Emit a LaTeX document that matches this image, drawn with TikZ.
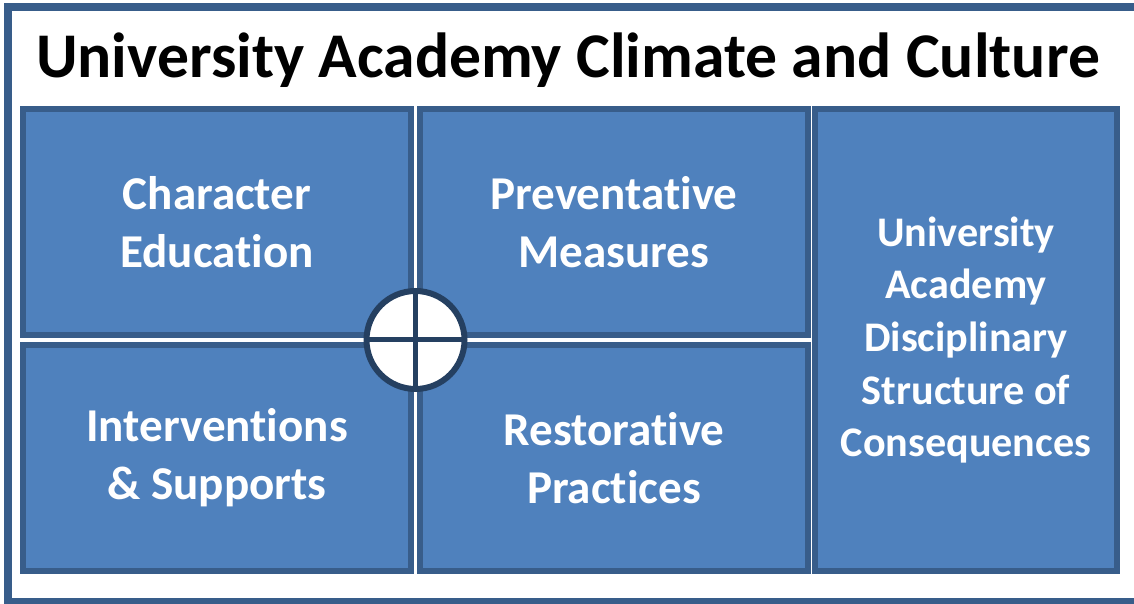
\documentclass[tikz,border=0pt]{standalone}
\usepackage{fontspec}
\setmainfont{Carlito}[Ligatures=NoCommon]
\usetikzlibrary{shapes, positioning, calc}

\definecolor{boxfill}{RGB}{79,129,189}
\definecolor{boxline}{RGB}{56,93,138}
\definecolor{hubline}{RGB}{37,64,97}

\begin{document}
\begin{tikzpicture}[
        quadbox/.style={rectangle, draw=boxline, fill=boxfill, line width=0.15cm, minimum width=9.7cm, minimum height=5.65cm, align=center, text=white, font=\fontsize{33.5}{41.5}\selectfont\bfseries},
        sidebox/.style={rectangle, draw=boxline, fill=boxfill, line width=0.15cm, minimum width=7.55cm, minimum height=11.55cm, align=center, text=white, font=\fontsize{30}{37.5}\selectfont\bfseries}
    ]
        \useasboundingbox (0,0) rectangle (28.35,15.1);
        % Frame
        \draw[boxline, line width=0.2cm] (0.2,0.05) rectangle (28.6,14.925);
        \node (title) [anchor=base, font=\fontsize{45.3}{50}\selectfont\bfseries] at (14.2,13.17) {University Academy Climate and Culture};

        % Nodes
        \node (character) [quadbox] at (5.425,9.55) {Character\\Education};
        \node (preventative) [quadbox, right=0.075cm of character] {Preventative\\Measures};
        \node (interventions) [quadbox, below=0.1cm of character] {Interventions\\\& Supports};
        \node (restorative) [quadbox, right=0.075cm of interventions] {Restorative\\Practices};
        \node (discipline) [sidebox, anchor=north west] at ($(preventative.north east)+(0.025,0)$) {University\\Academy\\Disciplinary\\Structure of\\Consequences};

        % Hub
        \node (hub) [circle, draw=hubline, fill=white, line width=0.15cm, minimum size=2.45cm, outer sep=0pt] at ($(character.south east)!0.5!(restorative.north west)$) {};
        \draw[hubline, line width=0.125cm] (hub.north) -- (hub.south);
        \draw[hubline, line width=0.125cm] (hub.west) -- (hub.east);
    \end{tikzpicture}
\end{document}
